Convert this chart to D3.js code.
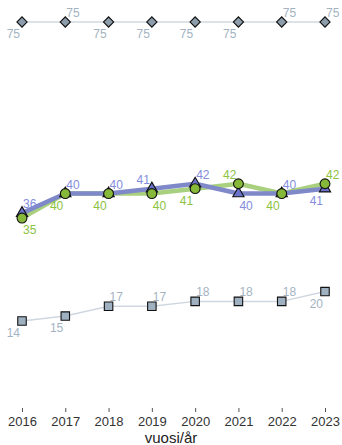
<!DOCTYPE html>
<html>
<head>
<meta charset="utf-8">
<script src="https://cdn.jsdelivr.net/npm/d3@7"></script>
<style>
  body { margin: 0; background: #fff; }
  svg { font-family: "Liberation Sans", Arial, sans-serif; }
</style>
</head>
<body>
<div class="chart"></div>
<script>
const w = 342;
const h = 445;

// data
const years = [2016, 2017, 2018, 2019, 2020, 2021, 2022, 2023];
const topValues = [75, 75, 75, 75, 75, 75, 75, 75];
const greenValues = [35, 40, 40, 40, 41, 42, 40, 42];
const blueValues = [36, 40, 40, 41, 42, 40, 40, 41];
const bottomValues = [14, 15, 17, 17, 18, 18, 18, 20];
const xTitle = "vuosi/år";

// where each value label sits: a = above, b = below, r = right, l = left
const topSides = ["bl", "ar", "bl", "bl", "bl", "bl", "ar", "ar"];
const greenSides = ["br", "bl", "bl", "br", "bl", "al", "bl", "ar"];
const blueSides = ["ar", "ar", "ar", "al", "ar", "br", "ar", "bl"];
const bottomSides = ["bl", "bl", "ar", "ar", "ar", "ar", "ar", "bl"];

var svg = d3.select(".chart").append("svg")
    .attr("width", w)
    .attr("height", h);

var xScale = d3.scalePoint().domain(years).range([22, 325]);
var yScale = d3.scaleLinear().domain([0, 75]).range([389.6, 22]);

var line = d3.line()
    .x((d, i) => xScale(years[i]))
    .y(d => yScale(d));

function drawLine(values, color, width) {
  svg.append("path")
     .datum(values)
     .attr("fill", "none")
     .attr("stroke", color)
     .attr("stroke-width", width)
     .attr("stroke-linejoin", "round")
     .attr("d", line);
}

function drawMarkers(values, type, size, fill, rotate) {
  var sym = d3.symbol().type(type).size(size);
  svg.append("g").selectAll("path")
     .data(values)
     .enter().append("path")
     .attr("d", sym)
     .attr("transform", (d, i) => "translate(" + xScale(years[i]) + "," + yScale(d) + ")" + (rotate ? " rotate(45)" : ""))
     .attr("fill", fill)
     .attr("stroke", "#111")
     .attr("stroke-width", 1.1);
}

function drawLabels(values, sides, color) {
  svg.append("g").selectAll("text")
     .data(values)
     .enter().append("text")
     .attr("x", (d, i) => xScale(years[i]) + (sides[i][1] == "r" ? 1 : -2))
     .attr("y", (d, i) => yScale(d) + (sides[i][0] == "a" ? -5 : 16))
     .attr("text-anchor", (d, i) => sides[i][1] == "r" ? "start" : "end")
     .attr("font-size", 12)
     .attr("fill", color)
     .text(d => d);
}

// lines
drawLine(topValues, "#cfd8e0", 1.5);
drawLine(bottomValues, "#cfd8e0", 1.5);
drawLine(greenValues, "#a9d07e", 4.5);
drawLine(blueValues, "#7f88c9", 4.5);

// markers
drawMarkers(topValues, d3.symbolSquare, 52, "#8d9dab", true);
drawMarkers(bottomValues, d3.symbolSquare, 72, "#9fb1c1", false);
drawMarkers(blueValues, d3.symbolTriangle, 55, "#6a72c9", false);
drawMarkers(greenValues, d3.symbolCircle, 76, "#86b83a", false);

// value labels
drawLabels(topValues, topSides, "#a3b3c2");
drawLabels(bottomValues, bottomSides, "#a3b3c2");
drawLabels(greenValues, greenSides, "#8cc23f");
drawLabels(blueValues, blueSides, "#838ddb");

// x axis
var xAxis = d3.axisBottom(xScale).tickSize(4).tickPadding(5);
var gx = svg.append("g")
    .attr("transform", "translate(0,408)")
    .call(xAxis);
gx.select(".domain").remove();
gx.selectAll(".tick line").attr("stroke", "#555");
gx.selectAll(".tick text")
  .attr("font-size", 13)
  .attr("font-family", "Liberation Sans, Arial, sans-serif")
  .attr("fill", "#333");

svg.append("text")
   .attr("x", 171)
   .attr("y", 443)
   .attr("text-anchor", "middle")
   .attr("font-size", 15)
   .attr("fill", "#222")
   .text(xTitle);
</script>
</body>
</html>
